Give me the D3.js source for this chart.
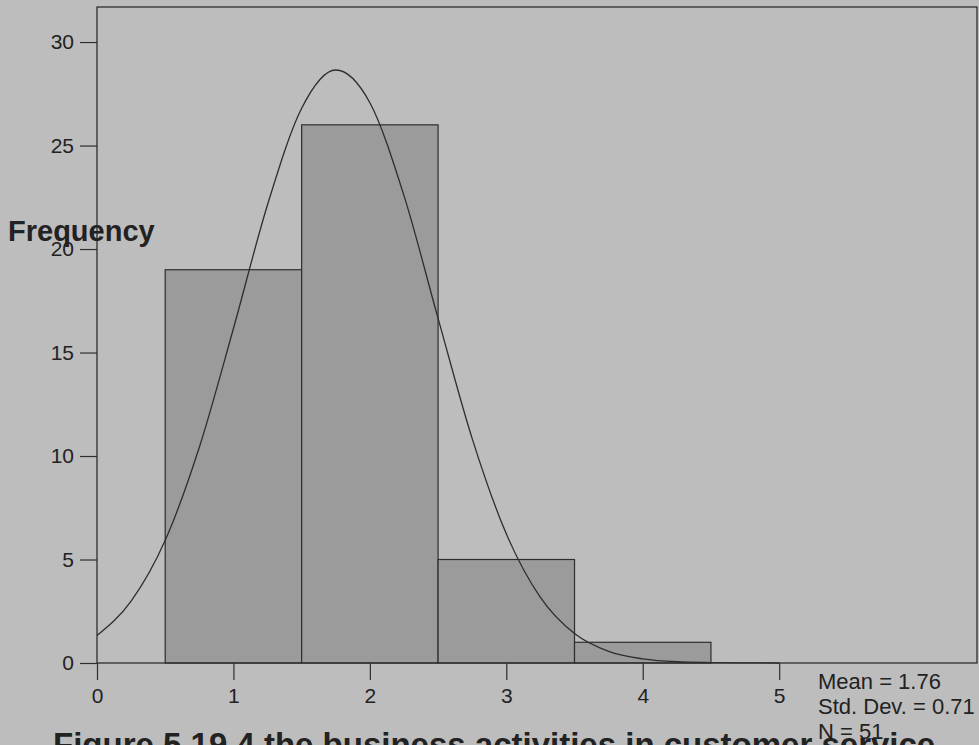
<!DOCTYPE html>
<html>
<head>
<meta charset="utf-8">
<script src="https://cdn.jsdelivr.net/npm/d3@7"></script>
<style>
  body { margin: 0; background: #bdbdbd; }
  text { font-family: "Liberation Sans", Arial, sans-serif; fill: #222; }
</style>
</head>
<body>
<div id="chart"></div>
<script>
// histogram bins (lower edge, upper edge) and counts
var binStart = [0.5, 1.5, 2.5, 3.5];
var binEnd = [1.5, 2.5, 3.5, 4.5];
var counts = [19, 26, 5, 1];

// normal curve
var curveX = [0, 0.25, 0.5, 0.75, 1, 1.25, 1.5, 1.75, 2, 2.25, 2.5, 2.75, 3, 3.25, 3.5, 3.75, 4, 4.25, 4.5, 4.75, 5];
var curveY = [1.33, 2.99, 5.93, 10.42, 16.16, 22.14, 26.8, 28.65, 27.07, 22.58, 16.65, 10.84, 6.24, 3.17, 1.42, 0.56, 0.2, 0.06, 0.02, 0.004, 0.001];

var xTicks = [0, 1, 2, 3, 4, 5];
var yTicks = [0, 5, 10, 15, 20, 25, 30];
var statLines = ["Mean = 1.76", "Std. Dev. = 0.71", "N = 51"];
var yTitle = "Frequency";
var caption = "Figure 5.19.4 the business activities in customer service";

var margin = { top: 11, right: 2, bottom: 82, left: 97 };
var W = 979, H = 745;
var width = W - margin.left - margin.right;
var height = H - margin.top - margin.bottom;

var svg = d3.select("#chart")
    .append("svg")
    .attr("width", W)
    .attr("height", H)
    .style("display", "block");

svg.append("rect")
    .attr("width", W)
    .attr("height", H)
    .attr("fill", "#bdbdbd");

var g = svg.append("g")
    .attr("transform", "translate(" + margin.left + "," + margin.top + ")");

var x = d3.scaleLinear().domain([0, 6.45]).range([0, width]);
var y = d3.scaleLinear().domain([0, 31.5]).range([height, 0]);

// bars
g.selectAll("rect.bar")
  .data(counts)
  .join("rect")
    .attr("class", "bar")
    .attr("x", function(d, i) { return x(binStart[i]); })
    .attr("width", function(d, i) { return x(binEnd[i]) - x(binStart[i]); })
    .attr("y", function(d) { return y(d); })
    .attr("height", function(d) { return y(0) - y(d); })
    .attr("fill", "#9b9b9b")
    .attr("stroke", "#2e2e2e")
    .attr("stroke-width", 1.2);

// fitted normal curve
g.append("path")
    .datum(curveX.map(function(v, i) { return [v, curveY[i]]; }))
    .attr("fill", "none")
    .attr("stroke", "#2e2e2e")
    .attr("stroke-width", 1.3)
    .attr("d", d3.line()
        .curve(d3.curveMonotoneX)
        .x(function(d) { return x(d[0]); })
        .y(function(d) { return y(d[1]); }));

// frame
g.append("rect")
    .attr("x", 0)
    .attr("y", -4)
    .attr("width", width)
    .attr("height", height + 4)
    .attr("fill", "none")
    .attr("stroke", "#2e2e2e")
    .attr("stroke-width", 1.3);

// y axis
var yAxis = g.append("g")
    .call(d3.axisLeft(y).tickValues(yTicks).tickSize(17).tickPadding(6));
yAxis.select(".domain").remove();
yAxis.selectAll("line").attr("stroke", "#2e2e2e").attr("stroke-width", 1.2);
yAxis.selectAll("text")
    .style("font-size", "21px")
    .style("font-family", "Liberation Sans, Arial, sans-serif")
    .attr("fill", "#222");

// x axis
var xAxis = g.append("g")
    .attr("transform", "translate(0," + height + ")")
    .call(d3.axisBottom(x).tickValues(xTicks).tickFormat(d3.format("d")).tickSize(17).tickPadding(8));
xAxis.select(".domain").remove();
xAxis.selectAll("line").attr("stroke", "#2e2e2e").attr("stroke-width", 1.2);
xAxis.selectAll("text")
    .style("font-size", "21px")
    .style("font-family", "Liberation Sans, Arial, sans-serif")
    .attr("fill", "#222");

// y title
svg.append("text")
    .attr("x", 8)
    .attr("y", 241)
    .style("font-size", "29px")
    .style("font-weight", "bold")
    .text(yTitle);

// caption (cut by the bottom edge)
svg.append("text")
    .attr("x", 53)
    .attr("y", 756)
    .style("font-size", "33px")
    .style("font-weight", "bold")
    .text(caption);

// stats box
svg.selectAll("text.stat")
  .data(statLines)
  .join("text")
    .attr("class", "stat")
    .attr("x", 818)
    .attr("y", function(d, i) { return 689 + i * 25; })
    .style("font-size", "22px")
    .text(function(d) { return d; });
</script>
</body>
</html>
